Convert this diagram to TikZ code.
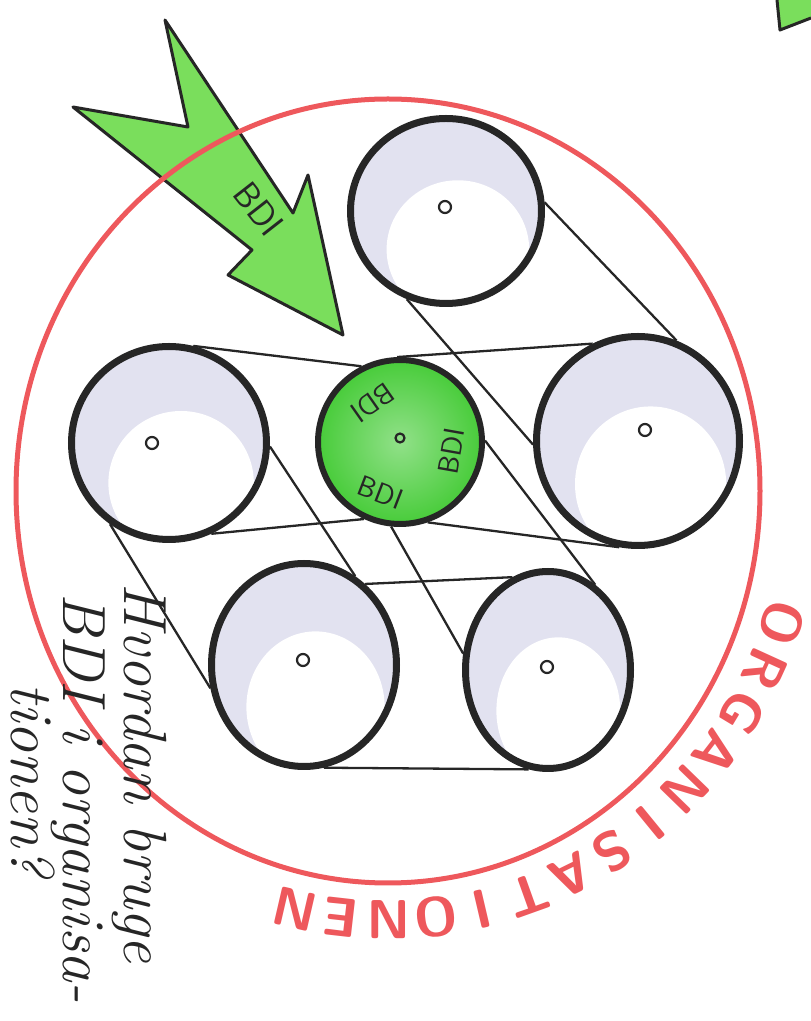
\documentclass[tikz,border=0pt]{standalone}
\usetikzlibrary{shapes.geometric}
\definecolor{ringred}{RGB}{238,88,92}
\definecolor{bdigreen}{RGB}{72,204,58}
\definecolor{arrowgreen}{RGB}{122,222,92}
\definecolor{lavender}{RGB}{226,226,240}
\definecolor{ink}{RGB}{38,38,38}
\begin{document}
\begin{tikzpicture}[
x=1pt, y=1pt,
pulley/.style={
ellipse,
draw=ink,
line width=7
},
core/.style={
circle,
draw=ink,
line width=6,
shading=radial,
inner color=bdigreen!60!white,
outer color=bdigreen,
minimum size=164
},
hub/.style={circle, draw=ink, line width=2.2, minimum size=12, inner sep=0},
belt/.style={draw=ink, line width=2.3},
tag/.style={text=ink, font=\sffamily\fontsize{29}{29}\selectfont},
letter/.style={text=ringred, font=\sffamily\bfseries\fontsize{55}{55}\selectfont},
hand/.style={text=ink, rotate=-90, anchor=base west,
font=\itshape\fontsize{61}{61}\selectfont}
]
\useasboundingbox (0,0) rectangle (811,1021);

\fill[arrowgreen] (777,1021) -- (780,991) -- (811,1003) -- (811,1021) -- cycle;
\draw[ink, line width=3, line join=round] (777,1021) -- (780,991) -- (811,1003);

\filldraw[fill=arrowgreen, draw=ink, line width=3, line join=round]
(165,1001) -- (293,808) -- (308,846) -- (343,686) -- (228,746)
-- (252,771) -- (73,914) -- (188,894) -- cycle;
\node[tag, rotate=-52, font=\sffamily\fontsize{36}{36}\selectfont] (A) at (259,812) {BDI};

\draw[ringred, line width=5] (388,530) ellipse (372 and 392);

\foreach \ch [count=\i from 0] in {O,R,G,A,N,I,S,A,T,I,O,N,E,N} {
\pgfmathsetmacro\ang{-18-6.54*\i}
\node[letter, rotate=\ang-90] (o\i) at ({388+414*cos(\ang)},{530+429*sin(\ang)}) {\ch};
}

\foreach \n/\x/\y/\rx/\ry in {T/446/810/99/96, L/169/578/101/100, R/638/580/105/108, BL/304/356/96/105, BR/548/351/86/102} {
\begin{scope}
\clip (\x,\y) ellipse ({\rx-4} and {\ry-4});
\fill[lavender] (\x,\y) ellipse ({\rx} and {\ry});
\fill[white] ({\x+0.12*\rx},{\y-0.4*\ry}) ellipse ({0.72*\rx} and {0.72*\ry});
\end{scope}
\node[pulley, minimum width=2*\rx-7, minimum height=2*\ry-7] (\n) at (\x,\y) {};
}

\node[core] (C) at (400,579) {};

\node[hub] (Th) at (445,814) {};
\node[hub] (Lh) at (152,578) {};
\node[hub] (Rh) at (645,591) {};
\node[hub] (BLh) at (303,361) {};
\node[hub] (BRh) at (547,354) {};
\node[hub, minimum size=9] (Ch) at (400,583) {};

\node[tag, rotate=80] (C1) at ([shift={(-10:52)}]C.center) {BDI};
\node[tag, rotate=-21] (C2) at ([shift={(-111:54)}]C.center) {BDI};
\node[tag, rotate=215] (C3) at ([shift={(125:48)}]C.center) {BDI};

\draw[belt] (T.5) -- (R.69);
\draw[belt] (T.246) -- (R.182);
\draw[belt] (C.1) -- (BR.61);
\draw[belt] (L.76) -- (C.117);
\draw[belt] (C.92) -- (R.115);
\draw[belt] (C.289) -- (R.260);
\draw[belt] (L.295) -- (C.245);
\draw[belt] (BL.53) -- (BR.111);
\draw[belt] (C.264) -- (BR.169);
\draw[belt] (L.358) -- (BL.60);
\draw[belt] (L.234) -- (BL.194);
\draw[belt] (BL.281) -- (BR.259);

\node[hand] (Q1) at (124,441) {Hvordan bruge};
\node[hand] (Q2) at (63,431) {BDI i organisa-};
\node[hand] (Q3) at (12,341) {tionen?};

\end{tikzpicture}
\end{document}
